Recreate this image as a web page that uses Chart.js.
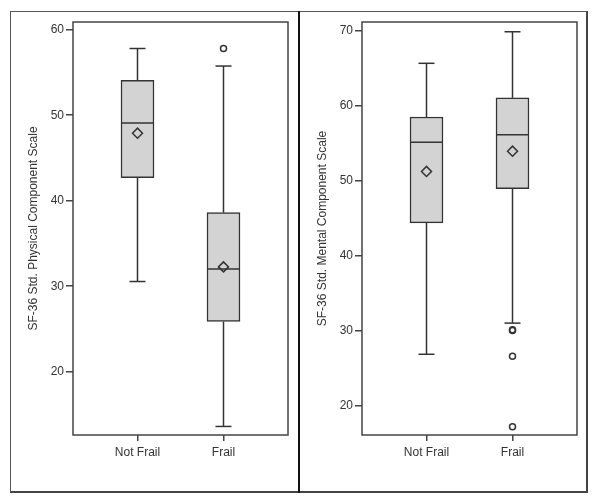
<!DOCTYPE html>
<html>
<head>
<meta charset="utf-8">
<script src="https://cdn.jsdelivr.net/npm/chart.js@4.4.1/dist/chart.umd.min.js"></script>
<style>
  body { margin: 0; background: #fff; }
  #frame { position: absolute; left: 10px; top: 11px; width: 578px; height: 482px; box-sizing: border-box;
           border: 1px solid #555; border-bottom: 2px solid #444; border-right: 2px solid #444; }
  #divider { position: absolute; left: 298px; top: 11px; width: 2px; height: 482px; background: #111; }
  canvas { position: absolute; top: 12px; }
  #left { left: 11px; }
  #right { left: 300px; }
</style>
</head>
<body>
<div id="frame"></div>
<div id="divider"></div>
<canvas id="left" width="287" height="479"></canvas>
<canvas id="right" width="287" height="479"></canvas>
<script>
const categories = ['Not Frail', 'Frail'];

// physical component scale
const physLow = [30.55, 13.6];
const physQ1 = [42.7, 25.87];
const physMedian = [49.1, 32.0];
const physQ3 = [54.07, 38.6];
const physHigh = [57.8, 55.75];
const physMean = [47.9, 32.26];
const physOutliers = [[], [57.8]];
const physTicks = [20, 30, 40, 50, 60];

// mental component scale
const mentLow = [26.85, 31.0];
const mentQ1 = [44.35, 48.9];
const mentMedian = [55.1, 56.1];
const mentQ3 = [58.45, 61.0];
const mentHigh = [65.6, 69.8];
const mentMean = [51.2, 53.9];
const mentOutliers = [[], [30.0, 30.1, 26.6, 17.2]];
const mentTicks = [20, 30, 40, 50, 60, 70];

const ink = '#333';
const font = { family: 'Liberation Sans, Arial, sans-serif', size: 12 };

// whiskers, caps, median line and the frame round the plot
const boxExtras = {
  id: 'boxExtras',
  afterDatasetDraw(chart, args, opts) {
    if (args.index !== 0) return;
    const { ctx, scales: { x, y } } = chart;
    ctx.save();
    ctx.strokeStyle = ink;
    ctx.lineWidth = 1.5;
    opts.q1.forEach((q1, i) => {
      const cx = x.getPixelForValue(i);
      const line = (x1, y1, x2, y2) => {
        ctx.beginPath(); ctx.moveTo(x1, y1); ctx.lineTo(x2, y2); ctx.stroke();
      };
      line(cx, y.getPixelForValue(opts.q3[i]), cx, y.getPixelForValue(opts.high[i]));
      line(cx, y.getPixelForValue(q1), cx, y.getPixelForValue(opts.low[i]));
      line(cx - 8, y.getPixelForValue(opts.high[i]), cx + 8, y.getPixelForValue(opts.high[i]));
      line(cx - 8, y.getPixelForValue(opts.low[i]), cx + 8, y.getPixelForValue(opts.low[i]));
      line(cx - 16.5, y.getPixelForValue(opts.median[i]), cx + 16.5, y.getPixelForValue(opts.median[i]));
    });
    ctx.restore();
  },
  afterDraw(chart) {
    const { ctx, chartArea: a } = chart;
    ctx.save();
    ctx.strokeStyle = '#444';
    ctx.lineWidth = 1.5;
    ctx.strokeRect(a.left, a.top, a.right - a.left, a.bottom - a.top);
    ctx.restore();
  }
};

function makeChart(id, d) {
  new Chart(document.getElementById(id), {
    type: 'bar',
    data: {
      datasets: [
        {
          data: categories.map((c, i) => ({ x: i, y: [d.q1[i], d.q3[i]] })),
          backgroundColor: '#d3d3d3',
          borderColor: ink,
          borderWidth: 1.5,
          borderSkipped: false,
          barThickness: 33,
          order: 3
        },
        {
          type: 'scatter',
          data: d.mean.map((m, i) => ({ x: i, y: m })),
          pointStyle: 'rectRot',
          radius: 5,
          borderColor: ink,
          borderWidth: 1.5,
          backgroundColor: 'rgba(0,0,0,0)',
          order: 1
        },
        {
          type: 'scatter',
          data: d.outliers.flatMap((list, i) => list.map(v => ({ x: i, y: v }))),
          pointStyle: 'circle',
          radius: 3,
          borderColor: ink,
          borderWidth: 1.5,
          backgroundColor: 'rgba(0,0,0,0)',
          order: 1
        }
      ]
    },
    options: {
      responsive: false,
      animation: false,
      layout: { padding: { top: 10, right: 10, left: 0, bottom: 0 } },
      scales: {
        x: {
          type: 'linear',
          offset: false,
          min: -0.75,
          max: 1.75,
          afterBuildTicks: axis => { axis.ticks = categories.map((c, i) => ({ value: i })); },
          afterFit: axis => { axis.height = 56; },
          ticks: { color: ink, font, padding: 4, callback: v => categories[v] },
          grid: { offset: false, drawOnChartArea: false, tickLength: 6, color: '#444', lineWidth: 1.5 },
          border: { display: false }
        },
        y: {
          min: d.min,
          max: d.max,
          afterBuildTicks: axis => { axis.ticks = d.ticks.map(v => ({ value: v })); },
          afterFit: axis => { axis.width = 62; },
          ticks: { color: ink, font, padding: 2 },
          grid: { drawOnChartArea: false, tickLength: 7, color: '#444', lineWidth: 1.5 },
          border: { display: false },
          title: { display: true, text: d.title, color: ink, font, padding: { top: 15 } }
        }
      },
      plugins: {
        legend: { display: false },
        tooltip: { enabled: false },
        boxExtras: d
      }
    },
    plugins: [boxExtras]
  });
}

makeChart('left', {
  title: 'SF-36 Std. Physical Component Scale',
  min: 12.6, max: 60.9, ticks: physTicks,
  low: physLow, q1: physQ1, median: physMedian, q3: physQ3, high: physHigh,
  mean: physMean, outliers: physOutliers
});

makeChart('right', {
  title: 'SF-36 Std. Mental Component Scale',
  min: 16.1, max: 71.1, ticks: mentTicks,
  low: mentLow, q1: mentQ1, median: mentMedian, q3: mentQ3, high: mentHigh,
  mean: mentMean, outliers: mentOutliers
});
</script>
</body>
</html>
